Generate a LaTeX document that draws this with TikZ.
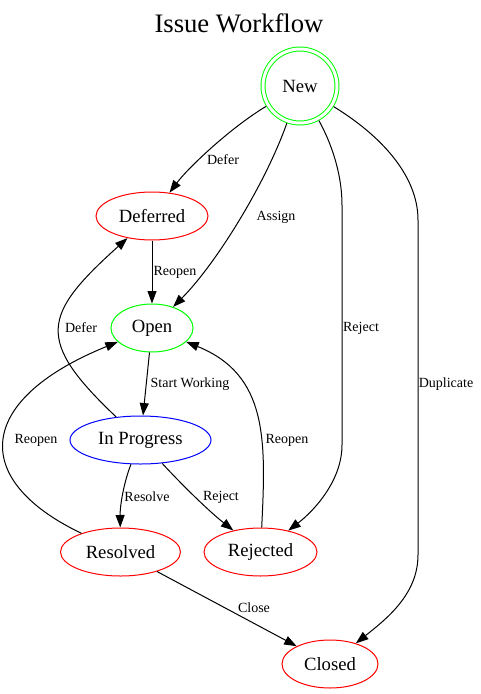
\documentclass[tikz,border=0pt]{standalone}
\usepackage{fontspec}
\setmainfont{Liberation Serif}
\usetikzlibrary{shapes.geometric,arrows.meta}
\begin{document}
\begin{tikzpicture}[x=1pt,y=-1pt,
  state/.style={ellipse, draw, line width=1pt, inner sep=0pt, minimum height=48pt, font=\fontsize{18.67}{20}\selectfont},
  edge/.style={draw=black, line width=1pt, -{Triangle[length=12.5pt,width=9pt]}},
  elabel/.style={font=\fontsize{14}{16}\selectfont, inner sep=0pt}]
\useasboundingbox (0,0) rectangle (481,694);
\node[font=\fontsize{26.67}{30}\selectfont, anchor=base] (title) at (239,32) {Issue Workflow};
\node[circle, draw=green, double=white, double distance=3pt, line width=1pt, minimum size=74pt, inner sep=0pt, outer sep=2.5pt, font=\fontsize{18.67}{20}\selectfont] (new) at (300,86) {New};
\node[state, draw=red, minimum width=112pt] (deferred) at (152,216) {Deferred};
\node[state, draw=green, minimum width=82pt] (open) at (152,328) {Open};
\node[state, draw=blue, minimum width=141pt] (inprog) at (140.5,440) {In Progress};
\node[state, draw=red, minimum width=120pt] (resolved) at (120.5,552) {Resolved};
\node[state, draw=red, minimum width=113pt] (rejected) at (260.5,552) {Rejected};
\node[state, draw=red, minimum width=96pt] (closed) at (330,664) {Closed};

\draw[edge] (new) .. controls (230,128) and (188,168) .. (deferred);
\draw[edge] (new) .. controls (265,185) and (215,265) .. (open);
\draw[edge] (new) .. controls (335,150) and (342,180) .. (342,205) -- (342,445) .. controls (342,480) and (315,510) .. (rejected);
\draw[edge] (new) .. controls (380,135) and (418,175) .. (418,220) -- (418,555) .. controls (418,595) and (385,620) .. (closed);
\draw[edge] (deferred) -- (open);
\draw[edge] (open) -- (inprog);
\draw[edge] (inprog) .. controls (35,340) and (42,315) .. (deferred);
\draw[edge] (resolved) .. controls (-30,480) and (-25,400) .. (open);
\draw[edge] (inprog) .. controls (124,482) and (120,505) .. (resolved);
\draw[edge] (inprog) .. controls (185,488) and (210,512) .. (rejected);
\draw[edge] (rejected) .. controls (266,440) and (268,375) .. (open);
\draw[edge] (resolved) -- (closed);

\node[elabel] (l1) at (223,160) {Defer};
\node[elabel] (l2) at (276,217) {Assign};
\node[elabel] (l3) at (361,328) {Reject};
\node[elabel] (l4) at (446,384) {Duplicate};
\node[elabel] (l5) at (175,272) {Reopen};
\node[elabel] (l6) at (190,384) {Start Working};
\node[elabel] (l7) at (81,328) {Defer};
\node[elabel] (l8) at (36,440) {Reopen};
\node[elabel] (l9) at (147,497) {Resolve};
\node[elabel] (l10) at (221,497) {Reject};
\node[elabel] (l11) at (287,440) {Reopen};
\node[elabel] (l12) at (254,608) {Close};
\end{tikzpicture}
\end{document}
